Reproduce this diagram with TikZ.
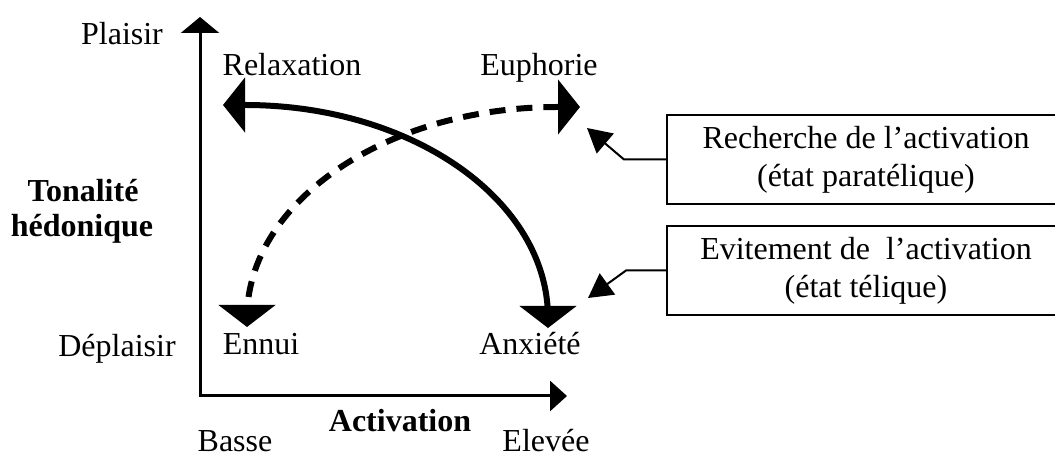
\documentclass[tikz,border=0pt]{standalone}
\usepackage{fontspec}
\setmainfont{Liberation Serif}
\usetikzlibrary{arrows.meta}
\begin{document}
\begin{tikzpicture}[x=0.5pt,y=-0.5pt,
  font=\fontsize{16}{19}\selectfont,
  lbl/.style={anchor=base, inner sep=0pt},
  boldlbl/.style={lbl, font=\fontsize{16}{19}\selectfont\bfseries},
  axis/.style={line width=1.5pt, {Triangle[length=8pt,width=19pt]}-{Triangle[length=8.5pt,width=15pt]}},
  bigarc/.style={line width=3pt, {Triangle[length=11pt,width=27pt]}-{Triangle[length=11pt,width=28pt]}},
  dasharc/.style={bigarc, dash pattern=on 8pt off 5.5pt},
  callout/.style={line width=1pt, -{Triangle[length=12pt,width=13pt]}},
  box/.style={draw, line width=1pt, minimum width=199pt, minimum height=44.5pt, align=center, inner sep=0pt}]
\useasboundingbox (0,0) rectangle (1055,458);
\fill[white] (0,0) rectangle (1055,458);

% axes
\coordinate (O) at (200,396);
\coordinate (ytop) at (200,17);
\coordinate (xend) at (567,396);
\draw[axis] (ytop) -- (O) -- (xend);

% axis labels
\node[lbl] (plaisir) at (122,45) {Plaisir};
\node[lbl] (deplaisir) at (117,357) {Déplaisir};
\node[boldlbl] (tonalite) at (83,202) {Tonalité};
\node[boldlbl] (hedonique) at (82,237) {hédonique};
\node[boldlbl] (activation) at (400,432) {Activation};
\node[lbl] (basse) at (235,452) {Basse};
\node[lbl] (elevee) at (546,452) {Elevée};

% state labels
\node[lbl] (relax) at (292,76) {Relaxation};
\node[lbl] (euph) at (539,76) {Euphorie};
\node[lbl] (ennui) at (261,355) {Ennui};
\node[lbl] (anx) at (530,355) {Anxiété};

% arcs
\coordinate (relaxtip) at (223,105);
\coordinate (anxtip) at (548,328);
\coordinate (euphtip) at (580,107);
\coordinate (ennuitip) at (247,327);
\draw[bigarc] (relaxtip) -- (245,105) .. controls (412,105) and (548,200) .. (548,318) -- (anxtip);
\draw[dasharc] (euphtip) -- (558,107) .. controls (386,107) and (247,202) .. (247,318) -- (ennuitip);

% boxes
\node[box] (b1) at (866,159.5) {Recherche de l’activation\\(état paratélique)};
\node[box] (b2) at (866,270.5) {Evitement de \ l’activation\\(état télique)};
\coordinate (t1) at (587,128);
\coordinate (t2) at (588,298);
\draw[callout] (b1.west) -- ++(-42,0) -- (t1);
\draw[callout] (b2.west) -- ++(-40,0) -- (t2);
\end{tikzpicture}
\end{document}
